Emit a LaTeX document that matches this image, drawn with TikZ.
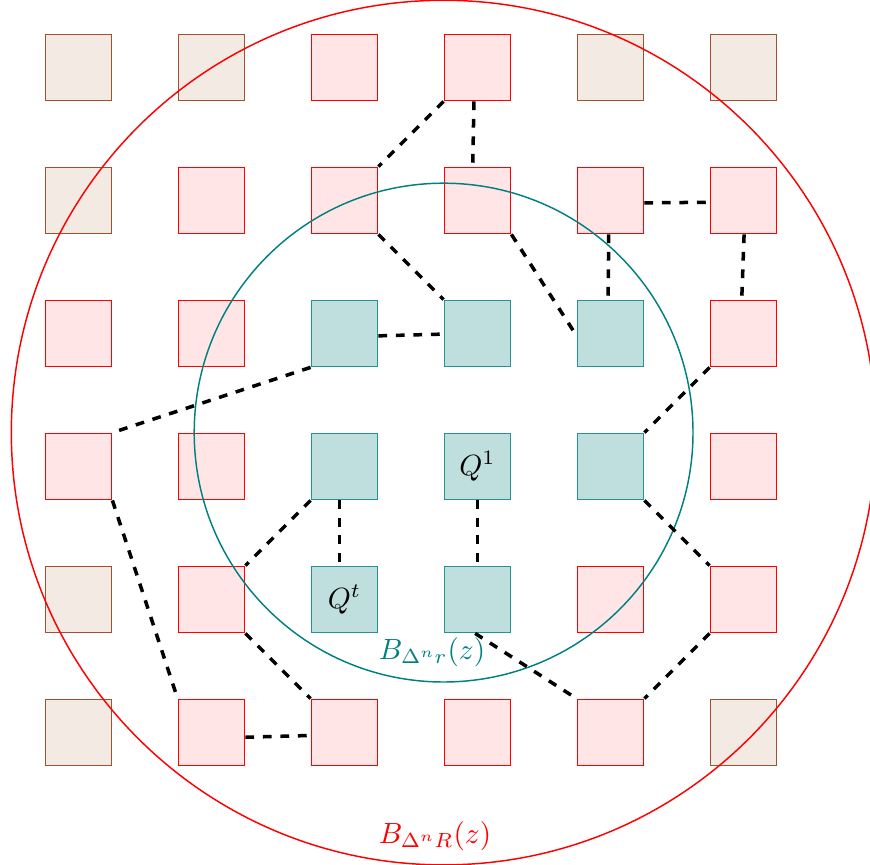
\documentclass[tikz,border=0pt]{standalone}
\definecolor{boxbrownfill}{RGB}{243,234,228}
\definecolor{boxbrowndraw}{RGB}{160,82,45}
\begin{document}
\begin{tikzpicture}[x=0.34226pt,y=-0.34226pt,
  sq/.style={draw, minimum size=22.8pt, inner sep=0pt, line width=0.4pt},
  pinkbox/.style={sq, draw=red, fill=red!10},
  brownbox/.style={sq, draw=boxbrowndraw, fill=boxbrownfill},
  tealbox/.style={sq, draw=teal!85, fill=teal!25},
  link/.style={dashed, line width=1.2pt}]
\useasboundingbox (0,0) rectangle (870,865);
\foreach \i/\j/\t in {0/0/brownbox,1/0/brownbox,2/0/pinkbox,3/0/pinkbox,4/0/brownbox,5/0/brownbox,
  0/1/brownbox,1/1/pinkbox,2/1/pinkbox,3/1/pinkbox,4/1/pinkbox,5/1/pinkbox,
  0/2/pinkbox,1/2/pinkbox,2/2/tealbox,3/2/tealbox,4/2/tealbox,5/2/pinkbox,
  0/3/pinkbox,1/3/pinkbox,2/3/tealbox,4/3/tealbox,5/3/pinkbox,
  0/4/brownbox,1/4/pinkbox,3/4/tealbox,4/4/pinkbox,5/4/pinkbox,
  0/5/brownbox,1/5/pinkbox,2/5/pinkbox,3/5/pinkbox,4/5/pinkbox,5/5/brownbox}
  \node[\t] (s\i\j) at ({78.5+133*\i},{67.5+133*\j}) {};
\node[tealbox] (s33) at ({78.5+133*3},{67.5+133*3}) {$Q^1$};
\node[tealbox] (s24) at ({78.5+133*2},{67.5+133*4}) {$Q^t$};
\draw[teal, line width=0.5pt] (s33.north west) circle[radius=3cm];
\draw[red, line width=0.5pt] (s33.north west) circle[radius=5.2cm];
\draw[link] (s30.south west) -- (s21.north east);
\draw[link] (s30.264) -- (s31.98);
\draw[link] (s41.356) -- (s51.183);
\draw[link] (s21.south east) -- (s32.north west);
\draw[link] (s31.south east) -- (s42.184);
\draw[link] (s41.267) -- (s42.94);
\draw[link] (s51.271) -- (s52.93);
\draw[link] (s22.356) -- (s32.181);
\draw[link] (s22.south west) -- (s03.north east);
\draw[link] (s52.south west) -- (s43.north east);
\draw[link] (s23.262) -- (s24.98);
\draw[link] (s23.south west) -- (s14.north east);
\draw[link] (s33.south) -- (s34.north);
\draw[link] (s43.south east) -- (s54.north west);
\draw[link] (s03.south east) -- (s15.north west);
\draw[link] (s14.south east) -- (s25.north west);
\draw[link] (s15.352) -- (s25.185);
\draw[link] (s34.266) -- (s45.north west);
\draw[link] (s54.south west) -- (s45.north east);
\node[text=teal] (lr) at (432,652) {$B_{\Delta^n r}(z)$};
\node[text=red] (lR) at (435,836) {$B_{\Delta^n R}(z)$};
\end{tikzpicture}
\end{document}
